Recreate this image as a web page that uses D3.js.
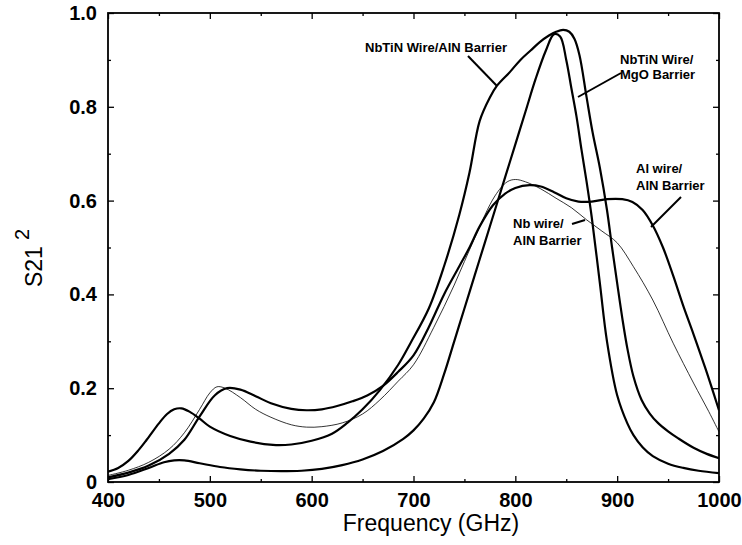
<!DOCTYPE html>
<html>
<head>
<meta charset="utf-8">
<script src="https://cdn.jsdelivr.net/npm/d3@7"></script>
<style>
  html, body { margin: 0; padding: 0; background: #fff; }
  svg { display: block; }
  text { font-family: "Liberation Sans", Arial, Helvetica, sans-serif; fill: #000; }
</style>
</head>
<body>
<svg id="chart" width="742" height="545"></svg>
<script>
// ---------------- data ----------------
const xTickValues = [400, 500, 600, 700, 800, 900, 1000];
const xTickLabels = ["400", "500", "600", "700", "800", "900", "1000"];
const yTickValues = [0, 0.2, 0.4, 0.6, 0.8, 1.0];
const yTickLabels = ["0", "0.2", "0.4", "0.6", "0.8", "1.0"];

// NbTiN Wire / AlN Barrier
const freqNbTiNAlN = [400,410,420,430,438,450,458,465,472,480,490,500,520,540,562,580,600,620,635,650,667,685,697,715,730,745,755,765,775,782,795,805,815,824,833,840,847,853,858,863,870,876,883,890,895,900,905,910,916,924,932,940,950,960,975,988,1000];
const s21NbTiNAlN  = [0.022,0.03,0.045,0.068,0.09,0.125,0.145,0.155,0.157,0.15,0.135,0.118,0.098,0.086,0.079,0.08,0.088,0.103,0.126,0.155,0.196,0.25,0.296,0.37,0.46,0.57,0.66,0.77,0.82,0.845,0.875,0.9,0.92,0.938,0.952,0.96,0.964,0.96,0.945,0.91,0.82,0.744,0.67,0.58,0.5,0.424,0.35,0.285,0.225,0.175,0.146,0.126,0.108,0.093,0.073,0.06,0.051];

// NbTiN Wire / MgO Barrier
const freqNbTiNMgO = [400,420,440,455,465,475,490,510,530,550,570,590,610,630,650,670,690,700,710,720,730,740,750,760,770,780,790,800,810,820,830,838,844,850,855,860,865,870,875,883,890,900,910,916,925,935,950,965,980,1000];
const s21NbTiNMgO  = [0.006,0.015,0.03,0.042,0.046,0.046,0.04,0.032,0.027,0.024,0.023,0.024,0.028,0.036,0.048,0.066,0.092,0.11,0.135,0.17,0.23,0.3,0.37,0.44,0.51,0.58,0.65,0.72,0.79,0.86,0.92,0.955,0.95,0.9,0.84,0.78,0.708,0.64,0.565,0.424,0.3,0.185,0.125,0.1,0.074,0.055,0.039,0.03,0.024,0.019];

// Al wire / AlN Barrier
const freqAlAlN = [400,420,440,460,475,490,505,517,530,545,560,580,595,610,625,640,655,670,685,700,715,730,745,755,765,778,790,800,814,825,838,850,862,875,890,905,915,925,935,945,955,965,975,987,1000];
const s21AlAlN  = [0.01,0.02,0.035,0.06,0.09,0.14,0.185,0.2,0.197,0.183,0.168,0.156,0.153,0.155,0.162,0.172,0.185,0.205,0.235,0.27,0.33,0.4,0.46,0.5,0.545,0.59,0.615,0.627,0.633,0.63,0.618,0.605,0.598,0.598,0.603,0.603,0.597,0.58,0.547,0.5,0.44,0.375,0.315,0.24,0.153];

// Nb wire / AlN Barrier (thin line)
const freqNbAlN = [400,420,440,460,475,490,500,507,515,530,545,560,580,595,610,630,650,667,685,700,720,740,760,780,792,800,810,825,840,855,870,885,900,916,935,955,975,990,1000];
const s21NbAlN  = [0.014,0.025,0.042,0.07,0.105,0.155,0.19,0.203,0.2,0.18,0.155,0.138,0.122,0.117,0.118,0.126,0.145,0.175,0.215,0.25,0.33,0.42,0.52,0.61,0.64,0.645,0.64,0.625,0.605,0.585,0.559,0.535,0.51,0.459,0.388,0.296,0.211,0.15,0.107];

const seriesList = [
  { name: "NbTiN Wire/AlN Barrier", freq: freqNbTiNAlN, s21: s21NbTiNAlN, thin: false },
  { name: "NbTiN Wire/MgO Barrier", freq: freqNbTiNMgO, s21: s21NbTiNMgO, thin: false },
  { name: "Al wire/AlN Barrier", freq: freqAlAlN, s21: s21AlAlN, thin: false },
  { name: "Nb wire/AlN Barrier", freq: freqNbAlN, s21: s21NbAlN, thin: true }
];

// ---------------- layout ----------------
const plot = { left: 108, right: 719, top: 13, bottom: 482 };

const svg = d3.select("#chart");
const x = d3.scaleLinear().domain([400, 1000]).range([plot.left, plot.right]);
const y = d3.scaleLinear().domain([0, 1.0]).range([plot.bottom, plot.top]);

svg.append("clipPath").attr("id", "clip")
  .append("rect").attr("x", plot.left).attr("y", plot.top)
  .attr("width", plot.right - plot.left).attr("height", plot.bottom - plot.top);

const line = d3.line()
  .x(d => x(d[0])).y(d => y(d[1]))
  .curve(d3.curveCatmullRom.alpha(0.5));

const curveG = svg.append("g").attr("clip-path", "url(#clip)");
seriesList.forEach(s => {
  const pts = s.freq.map((f, i) => [f, s.s21[i]]);
  curveG.append("path")
    .datum(pts)
    .attr("d", line)
    .attr("fill", "none")
    .attr("stroke", "#000")
    .attr("stroke-width", s.thin ? 0.8 : 2.2)
    .attr("stroke-linejoin", "round");
});

// axes (ticks inward, mirrored)
const xMinor = d3.range(450, 1000, 100);
const yMinor = d3.range(0.1, 1.0, 0.2);

function addAxis(axisGen, transform) {
  const g = svg.append("g").attr("transform", transform).call(axisGen);
  g.select(".domain").remove();
  g.selectAll("line").attr("stroke", "#000").attr("stroke-width", 1.3);
  return g;
}

const gxB = addAxis(d3.axisBottom(x).tickValues(xTickValues).tickSize(-6).tickFormat((d, i) => xTickLabels[i]).tickPadding(11),
  `translate(0,${plot.bottom})`);
gxB.selectAll("text").attr("font-size", 20).attr("font-weight", "bold");
addAxis(d3.axisBottom(x).tickValues(xMinor).tickSize(-3).tickFormat(""), `translate(0,${plot.bottom})`);
addAxis(d3.axisTop(x).tickValues(xTickValues).tickSize(-6).tickFormat(""), `translate(0,${plot.top})`);
addAxis(d3.axisTop(x).tickValues(xMinor).tickSize(-3).tickFormat(""), `translate(0,${plot.top})`);
const gyL = addAxis(d3.axisLeft(y).tickValues(yTickValues).tickSize(-6).tickFormat((d, i) => yTickLabels[i]).tickPadding(11),
  `translate(${plot.left},0)`);
gyL.selectAll("text").attr("font-size", 20).attr("font-weight", "bold");
addAxis(d3.axisLeft(y).tickValues(yMinor).tickSize(-3).tickFormat(""), `translate(${plot.left},0)`);
addAxis(d3.axisRight(y).tickValues(yTickValues).tickSize(-6).tickFormat(""), `translate(${plot.right},0)`);
addAxis(d3.axisRight(y).tickValues(yMinor).tickSize(-3).tickFormat(""), `translate(${plot.right},0)`);

svg.append("rect")
  .attr("x", plot.left).attr("y", plot.top)
  .attr("width", plot.right - plot.left).attr("height", plot.bottom - plot.top)
  .attr("fill", "none").attr("stroke", "#000").attr("stroke-width", 1.8);

// axis titles
svg.append("text")
  .attr("x", 431).attr("y", 531)
  .attr("text-anchor", "middle").attr("font-size", 23)
  .text("Frequency (GHz)");

const yTitle = svg.append("text")
  .attr("transform", `translate(42,258) rotate(-90)`)
  .attr("text-anchor", "middle").attr("font-size", 23);
yTitle.append("tspan").text("S21");
yTitle.append("tspan").attr("dx", 6).attr("dy", -13).attr("font-size", 20).text("2");

// annotations
const ann = svg.append("g").attr("font-size", 13).attr("font-weight", "bold");
function label(lines, xPos, yPos, lh) {
  lines.forEach((t, i) => ann.append("text").attr("x", xPos).attr("y", yPos + i * lh).text(t));
}
label(["NbTiN Wire/AlN Barrier"], 365, 52, 0);
label(["NbTiN Wire/", "MgO Barrier"], 620, 64, 15);
label(["Al wire/", "AlN Barrier"], 636, 173, 17);
label(["Nb wire/", "AlN Barrier"], 513, 228, 17);

const pointers = [
  [[468, 56], [497, 86]],
  [[621, 73], [578, 97]],
  [[681, 197], [651, 227]],
  [[572, 224], [585, 220]]
];
svg.append("g").selectAll("line").data(pointers).join("line")
  .attr("x1", d => d[0][0]).attr("y1", d => d[0][1])
  .attr("x2", d => d[1][0]).attr("y2", d => d[1][1])
  .attr("stroke", "#000").attr("stroke-width", 2);
</script>
</body>
</html>
